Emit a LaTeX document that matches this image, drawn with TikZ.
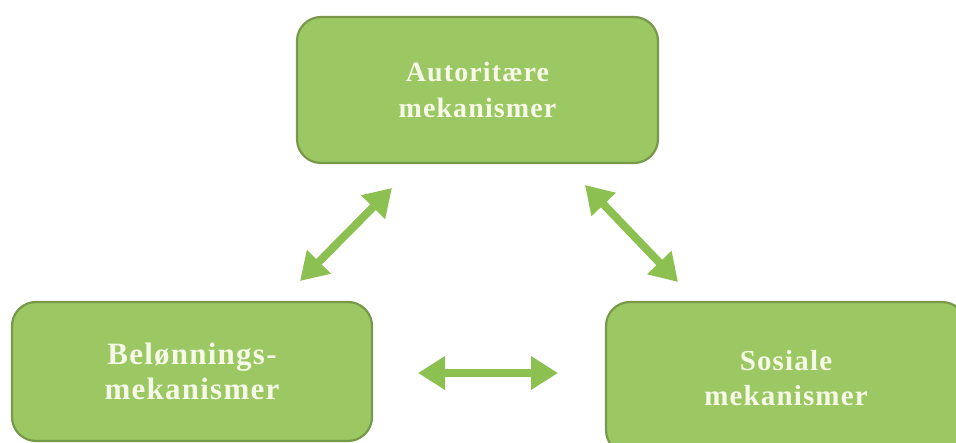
\documentclass[tikz,border=0pt]{standalone}
\usepackage{fontspec}
\setmainfont{Liberation Serif}
\newfontfamily\boxfont[LetterSpace=4]{Liberation Serif}
\usetikzlibrary{arrows.meta}
\definecolor{boxfill}{RGB}{155,200,98}
\definecolor{boxborder}{RGB}{120,152,74}
\definecolor{arrowgreen}{RGB}{140,193,82}
\definecolor{textwhite}{RGB}{246,249,232}
\tikzset{
  mbox/.style={draw=boxborder, line width=2.2pt, fill=boxfill, rounded corners=24pt,
    text=textwhite, align=center, inner sep=0pt},
  dblarrow/.style={draw=arrowgreen, line width=8pt,
    {Triangle[width=32pt,length=27pt]}-{Triangle[width=32pt,length=27pt]}},
}
\begin{document}
\begin{tikzpicture}[x=1pt,y=-1pt]
\useasboundingbox (0,0) rectangle (956,443);
\clip (0,0) rectangle (956,443);
\fill[white] (0,0) rectangle (956,443);
\node[mbox, minimum width=361pt, minimum height=146pt,
  font=\boxfont\fontsize{28}{36}\selectfont\bfseries] (top) at (477.5,90)
  {Autoritære\\mekanismer};
\node[mbox, minimum width=360pt, minimum height=139pt,
  font=\boxfont\fontsize{31}{35}\selectfont\bfseries] (left) at (192,371.5)
  {Belønnings-\\mekanismer};
\node[mbox, minimum width=360pt, minimum height=152pt,
  font=\boxfont\fontsize{29}{35}\selectfont\bfseries] (right) at (786,378)
  {Sosiale\\mekanismer};
\coordinate (a1) at (300,281);
\coordinate (a2) at (392,188);
\coordinate (b1) at (585,185);
\coordinate (b2) at (678,282);
\coordinate (c1) at (418,373);
\coordinate (c2) at (558,373);
\draw[dblarrow] (a1) -- (a2);
\draw[dblarrow] (b1) -- (b2);
\draw[dblarrow] (c1) -- (c2);
\end{tikzpicture}
\end{document}
